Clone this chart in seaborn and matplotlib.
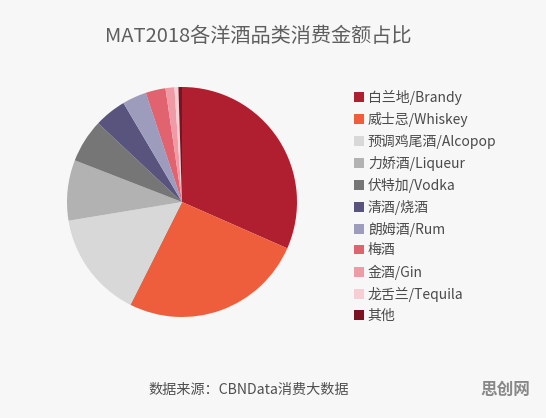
import matplotlib
matplotlib.use("Agg")
import matplotlib.pyplot as plt
import seaborn as sns
from matplotlib.patches import Patch

categories = ["白兰地/Brandy", "威士忌/Whiskey", "预调鸡尾酒/Alcopop", "力娇酒/Liqueur",
              "伏特加/Vodka", "清酒/烧酒", "朗姆酒/Rum", "梅酒", "金酒/Gin",
              "龙舌兰/Tequila", "其他"]
shares = [31.6, 25.8, 15.0, 8.5, 6.1, 4.5, 3.4, 2.8, 1.25, 0.55, 0.5]
colors_hex = ["#AF1F2F", "#EE5E3D", "#D8D8D8", "#B2B2B2", "#767676", "#58547E",
              "#9D9CBD", "#E0636F", "#EE9BA6", "#F6CFD5", "#7A1222"]
title = "MAT2018各洋酒品类消费金额占比"
source = "数据来源：CBNData消费大数据"

sns.set_theme(style="white")
plt.rcParams['font.family'] = ['Noto Sans CJK SC', 'DejaVu Sans']

W, H = 546, 418
fig = plt.figure(figsize=(W / 100, H / 100), dpi=100)
fig.patch.set_facecolor("#F7F7F7")

palette = sns.color_palette(colors_hex)

cx, cy, r = 182, 202, 115
ax = fig.add_axes([(cx - r) / W, (H - cy - r) / H, 2 * r / W, 2 * r / H])
ax.set_facecolor("none")
wedges, _ = ax.pie(shares, colors=palette, startangle=90, counterclock=False,
                   radius=1.0, wedgeprops=dict(linewidth=0))
ax.set_xlim(-1, 1)
ax.set_ylim(-1, 1)
ax.set_aspect("equal")
ax.axis("off")

handles = [Patch(facecolor=c, edgecolor="none") for c in palette]
leg = fig.legend(handles, categories, loc="upper left",
                 bbox_to_anchor=(347 / W, 1 - 83 / H), frameon=False,
                 fontsize=10, handlelength=0.7, handleheight=0.7,
                 handletextpad=0.3, labelspacing=0.5, borderpad=0)
for t in leg.get_texts():
    t.set_color("#4A4A4A")

fig.text(258 / W, 1 - 37 / H, title, ha="center", va="center",
         fontsize=14.5, color="#5E5E5E")
fig.text(148 / W, 1 - 390 / H, source, ha="left", va="center",
         fontsize=10.2, color="#4F4F4F")
fig.text(505 / W, 1 - 390 / H, "思创网", ha="center", va="center",
         fontsize=12, color="#888888", fontweight="bold")

fig.savefig("out.png", dpi=100, facecolor=fig.get_facecolor())
